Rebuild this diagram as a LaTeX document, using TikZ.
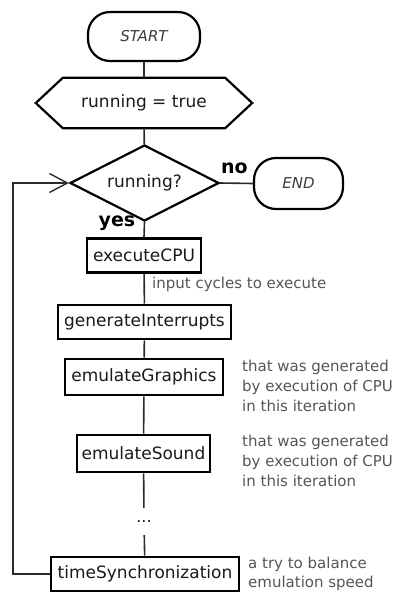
\documentclass[tikz,border=0pt]{standalone}
\usepackage{fontspec}
\setmainfont{DejaVu Sans}
\usetikzlibrary{shapes.geometric,arrows.meta}
\definecolor{ink}{HTML}{1A1A1A}
\definecolor{notegray}{HTML}{555555}
\definecolor{wire}{HTML}{2A2A2A}
\begin{document}
\begin{tikzpicture}[x=1pt,y=1pt,
  procbox/.style={draw=black, line width=2.6pt, fill=white, minimum height=34pt, inner sep=0pt,
    font=\fontsize{17}{20}\selectfont, text=ink},
  termbox/.style={draw=black, line width=2.2pt, rounded corners=22pt, minimum width=112pt,
    minimum height=49pt, inner sep=0pt, font=\fontsize{15}{18}\selectfont\itshape, text=ink!85},
  wireline/.style={draw=wire, line width=1.6pt},
  notetext/.style={text=notegray, font=\fontsize{15}{20}\selectfont, align=left, anchor=west, inner sep=0pt},
  yesno/.style={font=\fontsize{19}{20}\selectfont\bfseries, text=black, inner sep=0pt}]
\useasboundingbox (0,0) rectangle (392,-592);

% terminals
\node[termbox] (start) at (144,-36.5) {START};
\node[termbox, minimum width=89pt, minimum height=51pt] (end) at (298.5,-183.5) {END};

% initialisation (hexagon)
\node[minimum width=216pt, minimum height=50pt, inner sep=0pt,
  font=\fontsize{17}{20}\selectfont, text=ink] (init) at (144,-103) {running = true};
\draw[line width=2.2pt, line join=miter]
  (init.west) -- ([xshift=27pt]init.north west) -- ([xshift=-27pt]init.north east)
  -- (init.east) -- ([xshift=-27pt]init.south east) -- ([xshift=27pt]init.south west) -- cycle;

% decision
\node[diamond, draw=black, line width=2.2pt, aspect=1.96, minimum width=149pt, minimum height=76pt,
  inner sep=0pt, font=\fontsize{17}{20}\selectfont, text=ink] (dec) at (144.5,-183) {running?};

% process boxes
\node[procbox, minimum width=114pt] (exe) at (144,-255.5) {executeCPU};
\node[procbox, minimum width=173pt] (gen) at (144.5,-322) {generateInterrupts};
\node[procbox, minimum width=158pt, minimum height=36pt] (gfx) at (144,-377) {emulateGraphics};
\node[procbox, minimum width=133pt, minimum height=37pt] (snd) at (143.5,-453.5) {emulateSound};
\node[font=\fontsize{16}{20}\selectfont, text=ink, minimum height=27pt, inner sep=0pt] (dots) at (144,-521.5) {...};
\node[procbox, minimum width=188pt] (sync) at (145,-574) {timeSynchronization};

% connectors
\draw[wireline] (start) -- (init);
\draw[wireline] (init) -- (dec);
\draw[wireline] (dec.south) -- (exe.north);
\draw[wireline] (exe) -- (gen);
\draw[wireline] (gen) -- (gfx);
\draw[wireline] (gfx) -- (snd);
\draw[wireline] (snd) -- (dots);
\draw[wireline] (dots) -- (sync);
\draw[wireline] (dec.east) -- (end.west);
\draw[wireline, -{Straight Barb[length=18pt,width=19pt,line width=1.4pt]}]
  (sync.west) -- ++(-37,0) |- (dec.west);

% branch labels
\node[yesno] (nolbl) at (234.5,-168) {no};
\node[yesno] (yeslbl) at (117,-223) {yes};

% notes
\node[notetext] (n1) at (152,-284) {input cycles to execute};
\node[notetext] (n2) at (242,-386) {that was generated\\by execution of CPU\\in this iteration};
\node[notetext] (n3) at (242,-461) {that was generated\\by execution of CPU\\in this iteration};
\node[notetext, font=\fontsize{15}{19}\selectfont] (n4) at (248,-574) {a try to balance\\emulation speed};
\end{tikzpicture}
\end{document}
